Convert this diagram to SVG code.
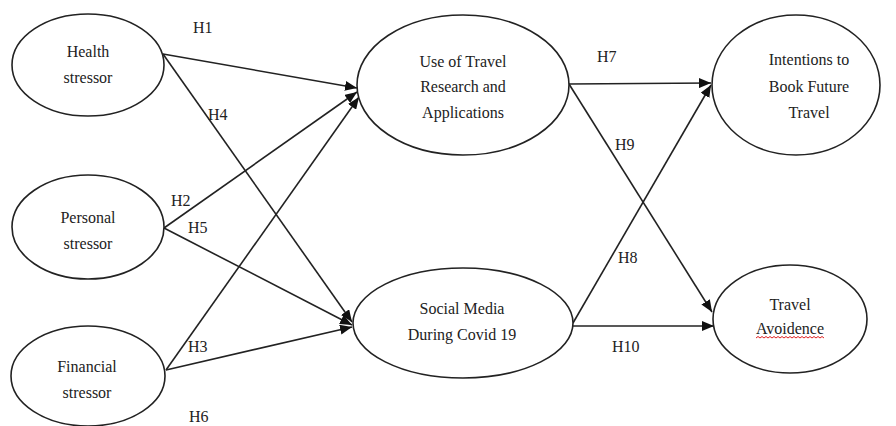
<svg xmlns="http://www.w3.org/2000/svg" width="896" height="426" viewBox="0 0 896 426">
<style>
.node ellipse{fill:#fff;stroke:#222;stroke-width:1.6}
text{font-family:'Liberation Serif','DejaVu Serif',serif;font-size:16px;fill:#222}
.lbl{text-anchor:middle}
.edge{stroke:#222;stroke-width:1.6;fill:none;marker-end:url(#arr)}
</style>
<defs>
<marker id="arr" viewBox="0 0 12 10" refX="12" refY="5" markerWidth="12" markerHeight="10" markerUnits="userSpaceOnUse" orient="auto">
<path d="M0,0 L12,5 L0,10 z" fill="#111"/>
</marker>
</defs>
<rect width="896" height="426" fill="#fff"/>
<g id="connectors">
<line class="edge" x1="163" y1="54" x2="357" y2="88"/>
<line class="edge" x1="163" y1="54" x2="352" y2="322"/>
<line class="edge" x1="164" y1="228" x2="357" y2="92"/>
<line class="edge" x1="164" y1="228" x2="352" y2="325"/>
<line class="edge" x1="166" y1="370" x2="359" y2="97"/>
<line class="edge" x1="166" y1="370" x2="352" y2="327"/>
<line class="edge" x1="569" y1="84" x2="711" y2="83"/>
<line class="edge" x1="569" y1="84" x2="712" y2="312"/>
<line class="edge" x1="573" y1="323" x2="711" y2="85"/>
<line class="edge" x1="573" y1="326" x2="714" y2="326"/>
</g>
<g id="labels" font-family="Liberation Serif, serif">
<text x="193" y="33">H1</text>
<text x="208" y="120">H4</text>
<text x="171" y="206">H2</text>
<text x="188" y="233">H5</text>
<text x="188" y="352">H3</text>
<text x="189" y="422">H6</text>
<text x="597" y="62">H7</text>
<text x="615" y="150">H9</text>
<text x="618" y="263">H8</text>
<text x="612" y="352">H10</text>
</g>
<g id="health" class="node">
<ellipse cx="88" cy="65" rx="76" ry="51"/>
<text class="lbl" x="88" y="57">Health</text>
<text class="lbl" x="88" y="83">stressor</text>
</g>
<g id="personal" class="node">
<ellipse cx="88" cy="227" rx="76" ry="52"/>
<text class="lbl" x="88" y="223">Personal</text>
<text class="lbl" x="88" y="249">stressor</text>
</g>
<g id="financial" class="node">
<ellipse cx="88" cy="376" rx="77" ry="50"/>
<text class="lbl" x="87" y="372">Financial</text>
<text class="lbl" x="87" y="398">stressor</text>
</g>
<g id="use-travel" class="node">
<ellipse cx="463" cy="85" rx="106" ry="70"/>
<text class="lbl" x="463" y="67">Use of Travel</text>
<text class="lbl" x="463" y="92">Research and</text>
<text class="lbl" x="463" y="118">Applications</text>
</g>
<g id="social-media" class="node">
<ellipse cx="463" cy="323" rx="110" ry="55"/>
<text class="lbl" x="462" y="314">Social Media</text>
<text class="lbl" x="462" y="340">During Covid 19</text>
</g>
<g id="intentions" class="node">
<ellipse cx="796" cy="85" rx="84" ry="70"/>
<text class="lbl" x="809" y="65">Intentions to</text>
<text class="lbl" x="809" y="92">Book Future</text>
<text class="lbl" x="809" y="118">Travel</text>
</g>
<g id="avoidence" class="node">
<ellipse cx="790" cy="319" rx="77" ry="54"/>
<text class="lbl" x="790" y="310">Travel</text>
<text class="lbl" x="790" y="334">Avoidence</text>
<path d="M756,338 l2,-1.5 l2,1.5 l2,-1.5 l2,1.5 l2,-1.5 l2,1.5 l2,-1.5 l2,1.5 l2,-1.5 l2,1.5 l2,-1.5 l2,1.5 l2,-1.5 l2,1.5 l2,-1.5 l2,1.5 l2,-1.5 l2,1.5 l2,-1.5 l2,1.5 l2,-1.5 l2,1.5 l2,-1.5 l2,1.5 l2,-1.5 l2,1.5 l2,-1.5 l2,1.5 l2,-1.5 l2,1.5 l2,-1.5 l2,1.5 l2,-1.5 l2,1.5" fill="none" stroke="#e02020" stroke-width="1"/>
</g>
</svg>
